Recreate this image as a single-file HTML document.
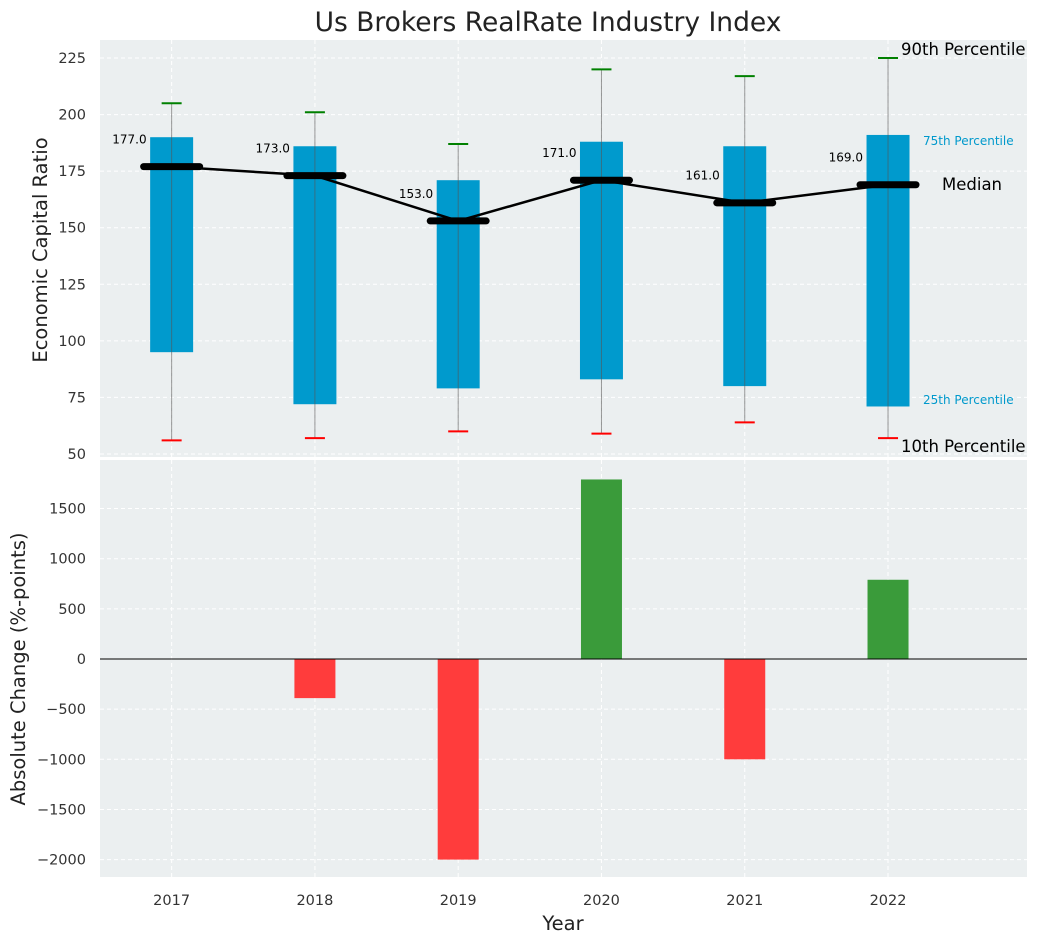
<!DOCTYPE html>
<html><head><meta charset="utf-8"><style>
body{margin:0;background:#fff;font-family:"Liberation Sans","DejaVu Sans",sans-serif}
svg text{font-family:"DejaVu Sans","Liberation Sans",sans-serif}
</style></head><body>
<svg id="c" width="1039" height="942" xmlns="http://www.w3.org/2000/svg"></svg>
<script>
const years=[2017,2018,2019,2020,2021,2022];
const p10=[56,57,60,59,64,57];
const p25=[95,72,79,83,80,71];
const medians=[177,173,153,171,161,169];
const p75=[190,186,171,188,186,191];
const p90=[205,201,187,220,217,225];
const changes=[0,-390,-2000,1790,-1000,790];
const topTicks=[50,75,100,125,150,175,200,225];
const botTicks=[-2000,-1500,-1000,-500,0,500,1000,1500];

const svg=document.getElementById('c');
const NS='http://www.w3.org/2000/svg';
function el(t,a,p){const e=document.createElementNS(NS,t);for(const k in a)e.setAttribute(k,a[k]);(p||svg).appendChild(e);return e;}
const L=100,R=1027;
const x=v=>L+(v-2016.5)/(2022.97-2016.5)*(R-L);
const yT=v=>454-(v-50)*(396/175);
const yB=v=>659-v*0.1003;

const gt=el('g',{});
el('rect',{x:L,y:40,width:R-L,height:417,fill:'#ebeff0'},gt);
const gb=el('g',{});
el('rect',{x:L,y:460,width:R-L,height:417,fill:'#ebeff0'},gb);
years.forEach(yr=>{
  el('line',{x1:x(yr),x2:x(yr),y1:40,y2:457,stroke:'#fff','stroke-dasharray':'4,3','stroke-width':1},gt);
  el('line',{x1:x(yr),x2:x(yr),y1:460,y2:877,stroke:'#fff','stroke-dasharray':'4,3','stroke-width':1},gb);
  const t=el('text',{x:x(yr),y:905,'text-anchor':'middle','font-size':14.5,fill:'#333'});t.textContent=yr;
  
});
topTicks.forEach(v=>{
  el('line',{x1:L,x2:R,y1:yT(v),y2:yT(v),stroke:'#fff','stroke-dasharray':'4,3'},gt);
  const t=el('text',{x:86,y:yT(v)+5,'text-anchor':'end','font-size':14.5,fill:'#333'});t.textContent=v;
  
});
botTicks.forEach(v=>{
  el('line',{x1:L,x2:R,y1:yB(v),y2:yB(v),stroke:'#fff','stroke-dasharray':'4,3'},gb);
  const t=el('text',{x:86,y:yB(v)+5,'text-anchor':'end','font-size':14.5,fill:'#333'});t.textContent=v<0?'\u2212'+(-v):v;
  
});
const hw=0.15*(x(2018)-x(2017));
years.forEach((yr,i)=>{
  const cx=x(yr);
  const b=el('rect',{x:cx-hw,y:yT(p75[i]),width:2*hw,height:yT(p25[i])-yT(p75[i]),fill:'#009acd'},gt);
  
  el('line',{x1:cx,x2:cx,y1:yT(p90[i]),y2:yT(p10[i]),stroke:'#555','stroke-opacity':0.6,'stroke-width':1},gt);
  el('line',{x1:cx-10,x2:cx+10,y1:yT(p90[i]),y2:yT(p90[i]),stroke:'green','stroke-width':2},gt);
  el('line',{x1:cx-10,x2:cx+10,y1:yT(p10[i]),y2:yT(p10[i]),stroke:'red','stroke-width':2},gt);
});
let pts=years.map((yr,i)=>x(yr)+','+yT(medians[i])).join(' ');
const ml=el('polyline',{points:pts,fill:'none',stroke:'#000','stroke-width':2.5},gt);

years.forEach((yr,i)=>{
  const cx=x(yr);
  const m=el('line',{x1:cx-28,x2:cx+28,y1:yT(medians[i]),y2:yT(medians[i]),stroke:'#000','stroke-width':7,'stroke-linecap':'round'},gt);
  
  const t=el('text',{x:cx-25,y:yT(medians[i]+12)+4,'text-anchor':'end','font-size':12,fill:'#000'});t.textContent=medians[i].toFixed(1);
  
});
function ann(txt,xx,yy,fs,col,name){const t=el('text',{x:xx,y:yy,'font-size':fs,fill:col});t.textContent=txt;}
ann('90th Percentile',901,55,16.5,'#000','annotation-90th');
ann('75th Percentile',923,145,12,'#0099cc','annotation-75th');
ann('Median',942,190,16.5,'#000','annotation-median');
ann('25th Percentile',923,404,12,'#0099cc','annotation-25th');
ann('10th Percentile',901,452,16.5,'#000','annotation-10th');

years.forEach((yr,i)=>{
  const cx=x(yr),v=changes[i];
  const y0=yB(Math.max(v,0)),y1=yB(Math.min(v,0));
  const b=el('rect',{x:cx-20.5,y:y0,width:41,height:y1-y0,fill:v>=0?'#3a9b3a':'#ff3c3c'},gb);
  
});
el('line',{x1:L,x2:R,y1:yB(0),y2:yB(0),stroke:'#000','stroke-width':1},gb);

function lab(txt,a,name){const t=el('text',a);t.textContent=txt;}
lab('Us Brokers RealRate Industry Index',{x:548,y:31,'text-anchor':'middle','font-size':26.5,fill:'#222'},'chart-title');
lab('Economic Capital Ratio',{x:47,y:250,'text-anchor':'middle','font-size':19.5,fill:'#222',transform:'rotate(-90 47 250)'},'y-axis-title-top');
lab('Absolute Change (%-points)',{x:25,y:669,'text-anchor':'middle','font-size':19.5,fill:'#222',transform:'rotate(-90 25 669)'},'y-axis-title-bottom');
lab('Year',{x:563,y:930,'text-anchor':'middle','font-size':19.5,fill:'#222'},'x-axis-title');
</script>
</body></html>
